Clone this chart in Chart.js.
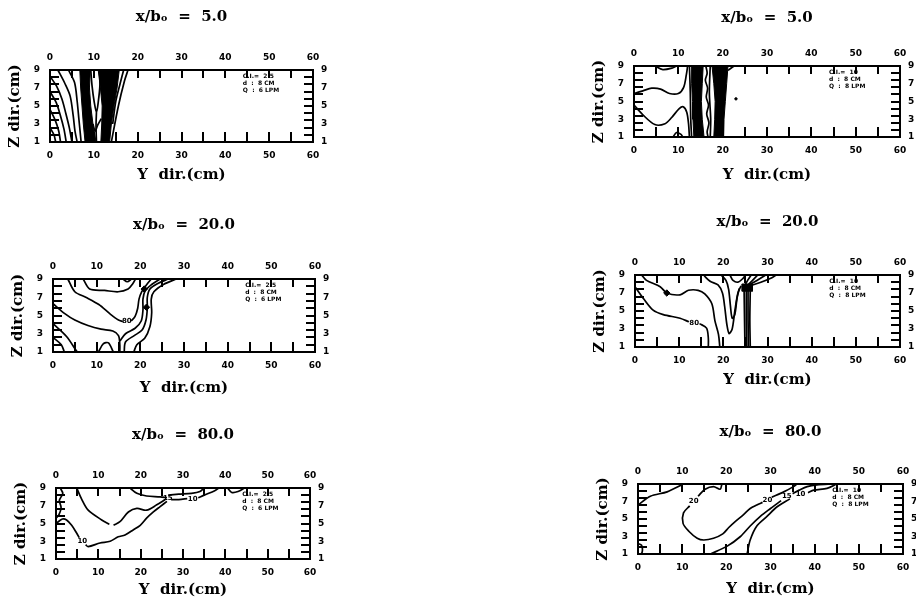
<!DOCTYPE html>
<html>
<head>
<meta charset="utf-8">
<title>Contours</title>
<script src="https://cdn.jsdelivr.net/npm/chart.js@4.4.0/dist/chart.umd.min.js"></script>
<style>
  body { margin: 0; background: #fff; width: 916px; height: 602px; overflow: hidden; position: relative; }
  canvas { position: absolute; }
</style>
</head>
<body>
<script>
// axis ranges, label steps and the spacing of the small frame ticks (cm)
const yRange = [0, 60];
const zRange = [1, 9];
const yStep = 10;
const zStep = 2;
const yTickStep = 5;
const zTickStep = 0.8;

const titles = ['x/bₒ  =  5.0', 'x/bₒ  =  5.0', 'x/bₒ  =  20.0', 'x/bₒ  =  20.0', 'x/bₒ  =  80.0', 'x/bₒ  =  80.0'];

// x/b = 5, left
const p1Bands = [
  [[6.8, 9], [9.2, 9], [9.0, 7], [9.3, 5], [9.8, 3], [10.5, 1], [8.0, 1], [7.6, 3], [7.3, 5], [7.0, 7], [6.8, 9]],
  [[11.0, 9], [15.8, 9], [15.3, 7], [14.6, 5], [14.0, 3], [13.6, 1], [11.6, 1], [11.8, 3], [11.9, 5], [11.5, 7], [11.0, 9]]
];
const p1Lines = [
  [[1.8, 9], [3.4, 7.5], [4.6, 6.1], [5.3, 3.9], [5.7, 2.2], [6.2, 1]],
  [[0, 8.3], [1.5, 7.2], [2.7, 5.8], [3.6, 4.2], [4.4, 2.6], [5.0, 1]],
  [[0, 6.6], [1.4, 5.4], [2.4, 3.9], [3.2, 2.4], [3.7, 1]],
  [[0, 4.6], [1.2, 3.4], [2.0, 2.2], [2.4, 1]],
  [[0, 2.6], [0.9, 1.8], [1.3, 1]],
  [[4.2, 9], [5.6, 7.6], [6.2, 5.5], [6.6, 3.5], [7.1, 1]],
  [[9.3, 9], [9.6, 7.2], [10.1, 5.4], [10.6, 4.3], [11.0, 5.4], [11.4, 7.4], [11.3, 9]],
  [[9.8, 3.0], [10.3, 2.2], [10.9, 2.9], [11.7, 3.6]],
  [[10.6, 4.3], [10.5, 2.8], [10.6, 1]],
  [[14.3, 3], [15.0, 5.5], [16.0, 7.5], [16.8, 9]],
  [[14.0, 1], [15.6, 5], [17.0, 7.8], [17.8, 9]],
  [[7.6, 9], [8.2, 8.2], [8.8, 9]],
  [[12.0, 9], [12.5, 8.4], [13.1, 9]]
];
const p1Labels = [];
const p1Blobs = [];

// x/b = 5, right
const p2Bands = [
  [[13.0, 9], [15.6, 9], [15.4, 7], [15.2, 5], [15.4, 3], [15.8, 1], [13.5, 1], [13.3, 3], [13.2, 5], [13.0, 7], [13.0, 9]],
  [[17.6, 9], [21.2, 9], [20.9, 7], [20.6, 5], [20.3, 3], [20.2, 1], [18.0, 1], [18.2, 3], [18.3, 5], [18.0, 7], [17.6, 9]]
];
const p2Lines = [
  [[0, 5.9], [2, 6.2], [4, 6.5], [6, 6.4], [8, 5.9], [10, 5.9], [11.2, 6.6], [11.8, 8], [12.1, 9]],
  [[0, 4.6], [2, 3.5], [4.7, 2.4], [7, 2.5], [8.5, 3.2], [10.2, 4.2], [11.1, 4.4], [11.9, 3.8], [12.3, 2.5], [12.5, 1]],
  [[4.7, 9], [6.5, 8.6], [8.8, 8.8], [9.6, 9]],
  [[8.8, 1], [9.6, 1.5], [10.6, 1.3], [11.0, 1]],
  [[12.5, 9], [12.7, 6], [12.8, 3], [13.0, 1]],
  [[16.2, 9], [16.5, 8.2], [16.1, 7.4], [16.6, 6.5], [16.3, 5.5], [16.8, 4.6], [16.4, 3.6], [16.9, 2.6], [16.5, 1.6], [16.7, 1]],
  [[17.2, 9], [17.0, 6], [17.3, 3], [17.2, 1]],
  [[21.2, 8.5], [22.0, 8.8], [22.6, 9]]
];
const p2Labels = [];
const p2Blobs = [];
const p2Dots = [[23.0, 5.3]];

// x/b = 20, left
const p3Bands = [];
const p3Lines = [
  [[3.4, 9], [5, 7.6], [7.5, 7], [10.5, 6.2], [13, 5.2], [15, 4.5], [16.0, 4.35]],
  [[17.9, 4.4], [18.8, 4.9], [19.4, 5.8], [19.7, 6.8], [20.3, 7.6], [21.3, 8.3], [22.5, 9]],
  [[6.9, 9], [8.4, 7.9], [11.8, 7.75], [14.9, 7.6], [17.2, 7.9], [18.3, 8.5], [18.9, 9]],
  [[0, 6.3], [2.7, 5.2], [5, 4.5], [8, 3.9], [11, 3.5], [13.7, 3.3], [15, 2.8], [15.3, 1.8], [15.3, 1]],
  [[15.3, 2.2], [16.6, 3], [18.8, 3.6], [20.2, 4.4], [20.6, 5.6], [20.6, 6.8], [21.1, 7.7], [22.6, 8.4], [24.5, 9]],
  [[16.3, 1], [16.6, 2.1], [18.6, 2.8], [20.4, 3.4], [21.3, 4.5], [21.6, 5.8], [21.6, 7], [22.2, 7.9], [24, 8.5], [26.4, 9]],
  [[18.5, 1], [19.2, 1.8], [21, 2.5], [22.2, 3.8], [22.6, 5.3], [22.5, 6.8], [23.1, 7.6], [25.3, 8.4], [28.2, 9]],
  [[0, 4.1], [3.1, 2.7], [5.4, 1.1], [5.6, 1]],
  [[0, 2.6], [1.9, 1.8], [2.6, 1]],
  [[10.4, 1], [11.5, 1.9], [12.7, 2], [13.8, 1]],
  [[16, 9], [17, 8.7], [18, 9]]
];
const p3Labels = [[16.9, 4.35, '80']];
const p3Blobs = [[20.9, 7.9], [21.4, 5.9]];

// x/b = 20, right
const p4Bands = [
  [[24.2, 8], [26.6, 8], [26.6, 7.2], [24.2, 7.2], [24.2, 8]]
];
const p4Lines = [
  [[0, 7.7], [1.9, 6.4], [4.1, 5.1], [6.4, 4.6], [10.2, 4.2], [12.2, 3.8]],
  [[14.6, 3.6], [16.2, 3.1], [16.6, 2], [16.6, 1]],
  [[1.5, 9], [2.6, 8.4], [5.7, 7.7], [7.2, 7], [10.2, 6.8], [12.1, 7.3], [14.3, 7.3], [15.8, 6.9], [17.4, 5.8], [18.1, 3.9], [18.9, 2.4], [19.2, 1]],
  [[15.5, 9], [17, 8.3], [18.8, 7.9], [19.8, 7], [20.3, 5.5], [20.8, 3.5], [21.3, 2.5], [22, 3], [22.6, 5], [23.3, 7], [24, 7.8]],
  [[19.5, 9], [20.6, 8.4], [21.2, 7.4], [21.6, 5.6], [22, 4.2], [22.6, 4.6], [23.1, 6.4], [23.6, 7.5]],
  [[21.5, 9], [22.2, 8.4], [23.3, 8.2], [24.4, 8.6], [25, 9]],
  [[24.6, 7.6], [25.5, 8.4], [26.3, 9]],
  [[25.0, 7.6], [26.4, 8.3], [27.8, 9]],
  [[25.6, 7.8], [27.6, 8.4], [29.6, 9]],
  [[26.0, 7.8], [28.5, 8.2], [31.0, 8.7], [32.0, 9]],
  [[24.7, 7.3], [24.8, 4], [24.9, 1]],
  [[25.2, 7.3], [25.2, 4], [25.3, 1]],
  [[25.6, 7.3], [25.6, 4], [25.7, 1]],
  [[26.1, 7.4], [26.0, 4], [26.1, 1]]
];
const p4Labels = [[13.4, 3.7, '80']];
const p4Blobs = [[7.2, 7.0]];

// x/b = 80, left
const p5Bands = [];
const p5Lines = [
  [[4.9, 9], [6, 7.8], [7.6, 6.5], [10.8, 5.4], [12.6, 4.9]],
  [[13.6, 4.8], [15.1, 5.2], [17.1, 6.3], [19.1, 6.7], [21.4, 6.5], [23.8, 7.1], [25.8, 7.7]],
  [[0, 5.0], [1.5, 5.5], [2.5, 5.4], [3.7, 4.8], [4.9, 3.9], [5.5, 3.4]],
  [[7, 2.6], [7.6, 2.4], [10.4, 2.8], [12.8, 3.0], [14.7, 3.5], [16.3, 3.7], [18.3, 4.3], [19.9, 4.8], [21.4, 5.6], [23, 6.3], [24.6, 6.9], [26.2, 7.5]],
  [[17.5, 9], [19.1, 8.4], [21.4, 8.1], [24.6, 8.0], [26.2, 7.9]],
  [[27.2, 7.7], [29, 7.7], [31, 7.8]],
  [[33.6, 7.9], [35, 8.2], [37.5, 8.7], [38.5, 9]],
  [[26.5, 8.2], [29, 8.3], [32, 8.4], [34, 8.6], [35, 9]],
  [[40.5, 9], [41.5, 8.5], [43, 8.6], [44.5, 9]],
  [[1, 9], [1.6, 8.4], [0.8, 7.6], [1.2, 6.8], [0.7, 6], [0, 5.6]]
];
const p5Labels = [[6.2, 3.0, '10'], [26.4, 7.8, '15'], [32.3, 7.7, '10']];
const p5Blobs = [];

// x/b = 80, right
const p6Bands = [];
const p6Lines = [
  [[0, 6.6], [2.8, 7.6], [6.6, 8.1], [10.3, 9]],
  [[19, 9], [18.6, 8.4], [17.1, 8.7], [15.2, 8.4], [13.6, 7.6]],
  [[11.7, 6.5], [10.3, 5.7], [10.2, 4.5], [11.5, 3.6], [13.4, 2.8], [14.9, 2.6], [17.1, 2.8], [19.2, 3.3], [20.5, 4], [22, 4.7], [23.9, 5.5], [25.4, 6.2], [26.9, 6.6], [28.2, 6.9]],
  [[30.3, 7.5], [33, 8.1], [35.2, 8.7], [36, 9]],
  [[16.4, 1], [20.2, 1.9], [23.2, 3], [25.4, 4.2], [27.7, 5.3], [30, 6.2], [32.4, 7.1]],
  [[35, 7.9], [36.5, 8.3], [38.3, 8.7], [40.5, 8.9], [44.3, 9]],
  [[24.7, 1], [25.4, 2.6], [26.9, 4.2], [29.2, 5.3], [31.5, 6.4], [34.4, 7.3]],
  [[38.5, 8], [39.8, 8.3], [42.8, 8.5], [45, 9]],
  [[0, 2.2], [0.8, 2], [1, 1.4], [0.7, 1], [0, 1]]
];
const p6Labels = [[12.6, 7.0, '20'], [29.3, 7.2, '20'], [33.7, 7.6, '15'], [36.8, 7.8, '10']];
const p6Blobs = [];

// small key in the upper right of each frame
const keyLeft = ['C.I.=  2.5', 'd  :  8 CM', 'Q  :  6 LPM'];
const keyRight = ['C.I.=  10', 'd  :  8 CM', 'Q  :  8 LPM'];

const panels = [
  { box: [50, 70, 263, 72], tpad: 8, bpad: 8, title: titles[0], bands: p1Bands, lines: p1Lines, labels: p1Labels, blobs: p1Blobs, dots: [], key: keyLeft },
  { box: [634, 66, 266, 71], tpad: 13, bpad: 3, title: titles[1], bands: p2Bands, lines: p2Lines, labels: p2Labels, blobs: p2Blobs, dots: p2Dots, key: keyRight },
  { box: [53, 279, 262, 73], tpad: 7, bpad: 5, title: titles[2], bands: p3Bands, lines: p3Lines, labels: p3Labels, blobs: p3Blobs, dots: [], key: keyLeft },
  { box: [635, 275, 265, 72], tpad: 8, bpad: 8, title: titles[3], bands: p4Bands, lines: p4Lines, labels: p4Labels, blobs: p4Blobs, dots: [], key: keyRight },
  { box: [56, 488, 254, 71], tpad: 8, bpad: 10, title: titles[4], bands: p5Bands, lines: p5Lines, labels: p5Labels, blobs: p5Blobs, dots: [], key: keyLeft },
  { box: [638, 484, 265, 70], tpad: 9, bpad: 6, title: titles[5], bands: p6Bands, lines: p6Lines, labels: p6Labels, blobs: p6Blobs, dots: [], key: keyRight }
];

// inward frame ticks, contour labels and the key
const frameText = {
  id: 'frameText',
  afterDraw(chart, args, opts) {
    const ctx = chart.ctx;
    const sx = chart.scales.x, sy = chart.scales.y;
    const a = chart.chartArea;
    const l = Math.round(a.left), r = Math.round(a.right);
    ctx.save();
    ctx.fillStyle = '#000';
    chart.scales.ym.ticks.forEach(t => {
      if (t.value <= yRange[0] || t.value >= yRange[1]) return;
      const px = Math.round(sx.getPixelForValue(t.value));
      ctx.fillRect(px - 1, a.bottom - 10, 2, 10);
      ctx.fillRect(px - 1, a.top, 2, 8);
    });
    for (let v = zRange[0] + zTickStep; v < zRange[1] - 0.01; v += zTickStep) {
      const py = Math.round(sy.getPixelForValue(v));
      ctx.fillRect(l - 1, py - 1, 10, 2);
      ctx.fillRect(r - 9, py - 1, 10, 2);
    }
    ctx.font = 'bold 7px "DejaVu Sans"';
    ctx.textAlign = 'center';
    ctx.textBaseline = 'middle';
    (opts.labels || []).forEach(lb => {
      ctx.fillText(lb[2], sx.getPixelForValue(lb[0]), sy.getPixelForValue(lb[1]));
    });
    ctx.font = 'bold 6px "DejaVu Sans"';
    ctx.textAlign = 'left';
    ctx.textBaseline = 'top';
    const kx = sx.getPixelForValue(44), ky = sy.getPixelForValue(8.6);
    (opts.key || []).forEach((t, i) => ctx.fillText(t, kx, ky + i * 7));
    ctx.restore();
  }
};

const toXY = pts => pts.map(p => ({ x: p[0], y: p[1] }));

const tickFont = { family: 'DejaVu Sans', weight: 'bold', size: 9 };
const titleFont = { family: 'DejaVu Serif', weight: 'bold', size: 15 };
const axisFont = { family: 'DejaVu Serif', weight: 'bold', size: 15 };
const frame = { display: true, color: '#000', width: 2 };

panels.forEach(p => {
  const [bx, by, bw, bh] = p.box;
  const cv = document.createElement('canvas');
  cv.width = bw + 50 + 26;
  cv.height = bh + 70 + 50;
  cv.style.left = (bx - 50) + 'px';
  cv.style.top = (by - 70) + 'px';
  document.body.appendChild(cv);

  const datasets = [];
  p.bands.forEach(b => datasets.push({
    data: toXY(b), showLine: true, fill: 'shape',
    backgroundColor: '#000', borderColor: '#000', borderWidth: 1, pointRadius: 0, tension: 0
  }));
  p.lines.forEach(ln => datasets.push({
    data: toXY(ln), showLine: true, fill: false,
    borderColor: '#000', borderWidth: 1.7, pointRadius: 0, tension: 0.3
  }));
  if (p.blobs.length) datasets.push({
    data: toXY(p.blobs), showLine: false, pointStyle: 'rectRot', pointRadius: 3.2,
    backgroundColor: '#000', borderColor: '#000'
  });
  if (p.dots.length) datasets.push({
    data: toXY(p.dots), showLine: false, pointRadius: 1.2,
    backgroundColor: '#000', borderColor: '#000'
  });

  new Chart(cv, {
    type: 'scatter',
    data: { datasets: datasets },
    plugins: [frameText],
    options: {
      responsive: false,
      animation: false,
      events: [],
      layout: { padding: 0 },
      plugins: {
        legend: { display: false },
        tooltip: { enabled: false },
        frameText: { labels: p.labels, key: p.key }
      },
      scales: {
        x: {
          type: 'linear', position: 'bottom', min: yRange[0], max: yRange[1],
          grid: { display: false, drawTicks: false }, border: frame,
          ticks: { stepSize: yStep, color: '#000', font: tickFont, padding: 8, maxRotation: 0 },
          title: { display: true, text: 'Y  dir.(cm)', color: '#000', font: axisFont, padding: { top: 0, bottom: p.bpad } },
          afterFit: s => { s.height = 50; }
        },
        x2: {
          type: 'linear', position: 'top', min: yRange[0], max: yRange[1],
          grid: { display: false, drawTicks: false }, border: frame,
          ticks: { stepSize: yStep, color: '#000', font: tickFont, padding: 7, maxRotation: 0 },
          title: { display: true, text: p.title, color: '#000', font: titleFont, padding: { top: p.tpad, bottom: 0 } },
          afterFit: s => { s.height = 70; }
        },
        y: {
          type: 'linear', position: 'left', min: zRange[0], max: zRange[1],
          grid: { display: false, drawTicks: false }, border: frame,
          ticks: { stepSize: zStep, color: '#000', font: tickFont, padding: 10 },
          title: { display: true, text: 'Z dir.(cm)', color: '#000', font: axisFont, padding: { top: 6, bottom: 0 } },
          afterFit: s => { s.width = 50; }
        },
        y2: {
          type: 'linear', position: 'right', min: zRange[0], max: zRange[1],
          grid: { display: false, drawTicks: false }, border: frame,
          ticks: { stepSize: zStep, color: '#000', font: tickFont, padding: 8 },
          afterFit: s => { s.width = 26; }
        },
        ym: { type: 'linear', axis: 'x', display: false, min: yRange[0], max: yRange[1],
              ticks: { stepSize: yTickStep, maxTicksLimit: 40, font: { size: 2 } } }
      }
    }
  });
});
</script>
</body>
</html>
